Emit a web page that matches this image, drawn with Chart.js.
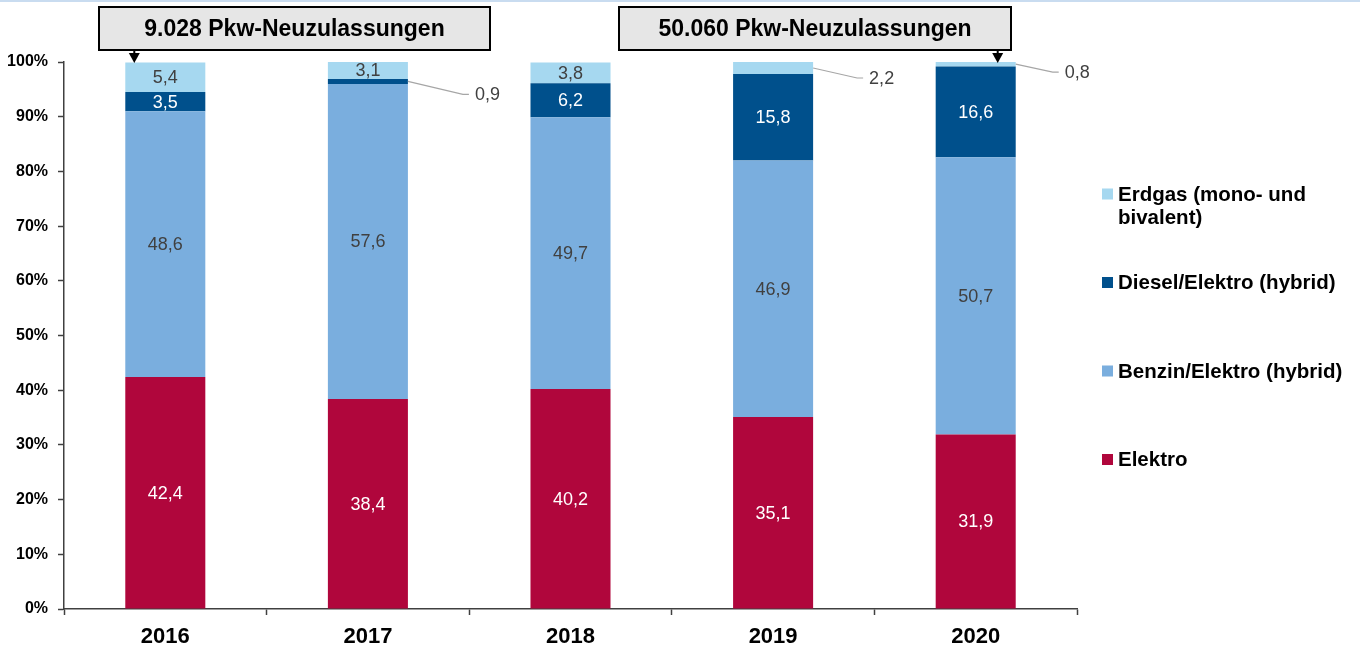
<!DOCTYPE html>
<html><head><meta charset="utf-8">
<script src="https://cdn.jsdelivr.net/npm/chart.js@4/dist/chart.umd.min.js"></script>
<style>
html,body{margin:0;padding:0;background:#fff;}
#wrap{position:relative;width:1360px;height:651px;overflow:hidden;}
#topline{position:absolute;left:0;top:0;width:1360px;height:2px;background:#C9DCF0;}
</style>
</head><body>
<div id="wrap"><canvas id="c" width="1360" height="651"></canvas><div id="topline"></div></div>
<script>
const years = ['2016', '2017', '2018', '2019', '2020'];
const elektro = [42.4, 38.4, 40.2, 35.1, 31.9];
const benzinHybrid = [48.6, 57.6, 49.7, 46.9, 50.7];
const dieselHybrid = [3.5, 0.9, 6.2, 15.8, 16.6];
const erdgas = [5.4, 3.1, 3.8, 2.2, 0.8];
const seriesNames = ['Elektro', 'Benzin/Elektro (hybrid)', 'Diesel/Elektro (hybrid)', 'Erdgas (mono- und bivalent)'];
const legendLines = [['Elektro'], ['Benzin/Elektro (hybrid)'], ['Diesel/Elektro (hybrid)'], ['Erdgas (mono- und', 'bivalent)']];
const yTickValues = [0, 10, 20, 30, 40, 50, 60, 70, 80, 90, 100];
const annotationTexts = ['9.028 Pkw-Neuzulassungen', '50.060 Pkw-Neuzulassungen'];
const annotationYearIndex = [0, 4];

const FONT = '"Liberation Sans", Arial, Helvetica, sans-serif';
const colors = ['#B0063C', '#7AAEDE', '#00508C', '#A6D8F0'];
const labelColors = ['#FFFFFF', '#404040', '#FFFFFF', '#404040'];

const fmt = v => v.toFixed(1).replace('.', ',');

const valueLabels = {
  id: 'valueLabels',
  afterDatasetsDraw(chart, args, opts) {
    const ctx = chart.ctx;
    ctx.save();
    ctx.font = '18px ' + FONT;
    ctx.textBaseline = 'middle';
    chart.data.datasets.forEach((ds, di) => {
      const meta = chart.getDatasetMeta(di);
      meta.data.forEach((bar, i) => {
        const v = ds.data[i];
        const top = Math.min(bar.y, bar.base), bot = Math.max(bar.y, bar.base);
        const cy = (top + bot) / 2;
        if (v >= 3) {
          ctx.fillStyle = labelColors[di];
          ctx.textAlign = 'center';
          ctx.fillText(fmt(v), bar.x, cy + 1);
        } else {
          const off = opts.callout[i] || [45, 11];
          const sx = bar.x + bar.width / 2, sy = cy;
          const mx = sx + off[0], my = sy + off[1];
          ctx.strokeStyle = '#A6A6A6';
          ctx.lineWidth = 1.2;
          ctx.beginPath();
          ctx.moveTo(sx, sy); ctx.lineTo(mx, my); ctx.lineTo(mx + 6, my);
          ctx.stroke();
          ctx.fillStyle = '#404040';
          ctx.textAlign = 'left';
          ctx.fillText(fmt(v), mx + 12, my + 1);
        }
      });
    });
    ctx.restore();
  }
};

const boxes = {
  id: 'boxes',
  afterDraw(chart, args, opts) {
    const ctx = chart.ctx;
    const xs = chart.scales.x;
    ctx.save();
    opts.items.forEach((b, k) => {
      ctx.fillStyle = '#E6E6E6';
      ctx.strokeStyle = '#000';
      ctx.lineWidth = 2;
      ctx.fillRect(b.left, b.top, b.right - b.left, b.bottom - b.top);
      ctx.strokeRect(b.left, b.top, b.right - b.left, b.bottom - b.top);
      ctx.fillStyle = '#000';
      ctx.font = 'bold 23px ' + FONT;
      ctx.textAlign = 'center';
      ctx.textBaseline = 'middle';
      ctx.fillText(annotationTexts[k], (b.left + b.right) / 2, (b.top + b.bottom) / 2 + 1);
      const ax = xs.getPixelForValue(annotationYearIndex[k]) + b.arrowDx;
      const tipY = chart.chartArea.top + 1;
      ctx.beginPath();
      ctx.lineWidth = 2;
      ctx.moveTo(ax, b.bottom); ctx.lineTo(ax, tipY - 8); ctx.stroke();
      ctx.beginPath();
      ctx.moveTo(ax - 5.5, tipY - 10); ctx.lineTo(ax + 5.5, tipY - 10); ctx.lineTo(ax, tipY); ctx.closePath();
      ctx.fill();
    });
    ctx.restore();
  }
};

const sideLegend = {
  id: 'sideLegend',
  afterDraw(chart, args, opts) {
    const ctx = chart.ctx;
    ctx.save();
    ctx.font = 'bold 20.5px ' + FONT;
    ctx.textBaseline = 'middle';
    ctx.textAlign = 'left';
    const order = [3, 2, 1, 0];
    order.forEach((di, k) => {
      const y = opts.startY + k * opts.step;
      ctx.fillStyle = colors[di];
      ctx.fillRect(opts.x, y - 5.5, 11, 11);
      ctx.fillStyle = '#000';
      legendLines[di].forEach((line, li) => {
        ctx.fillText(line, opts.x + 16, y + 1 + li * 23);
      });
    });
    ctx.restore();
  }
};

const datasets = [elektro, benzinHybrid, dieselHybrid, erdgas].map((d, i) => ({
  label: seriesNames[i],
  data: d,
  backgroundColor: colors[i],
  borderWidth: 0,
  categoryPercentage: 1.0,
  barPercentage: 0.395
}));

new Chart(document.getElementById('c'), {
  type: 'bar',
  data: { labels: years, datasets },
  plugins: [valueLabels, boxes, sideLegend],
  options: {
    responsive: false,
    animation: false,
    events: [],
    layout: { padding: { top: 62, right: 283, left: 0, bottom: 0 } },
    plugins: {
      legend: { display: false },
      tooltip: { enabled: false },
      valueLabels: { callout: { 1: [55, 13], 3: [44, 10], 4: [37, 8] } },
      boxes: { items: [
        { left: 99, right: 490, top: 7, bottom: 50, arrowDx: -31 },
        { left: 619, right: 1011, top: 7, bottom: 50, arrowDx: 22 }
      ] },
      sideLegend: { x: 1102, startY: 194, step: 88.5 }
    },
    scales: {
      x: {
        stacked: true,
        offset: true,
        afterFit(s) { s.height = 42; },
        border: { display: true, color: '#404040', width: 1.5 },
        grid: { display: true, offset: true, drawOnChartArea: false, drawTicks: true, tickLength: 6, color: '#404040', tickColor: '#404040', tickWidth: 1.5 },
        ticks: { color: '#000', font: { family: FONT, size: 22, weight: 'bold' }, padding: 9 }
      },
      y: {
        stacked: true,
        min: 0, max: 100,
        afterFit(s) { s.width = 64; },
        afterBuildTicks(s) { s.ticks = yTickValues.map(v => ({ value: v })); },
        border: { display: true, color: '#404040', width: 1.5 },
        grid: { display: true, drawOnChartArea: false, drawTicks: true, tickLength: 6, color: '#404040', tickColor: '#404040', tickWidth: 1.5 },
        ticks: { color: '#000', font: { family: FONT, size: 16, weight: 'bold' }, padding: 10, callback: v => v + '%' }
      }
    }
  }
});
</script>
</body></html>
